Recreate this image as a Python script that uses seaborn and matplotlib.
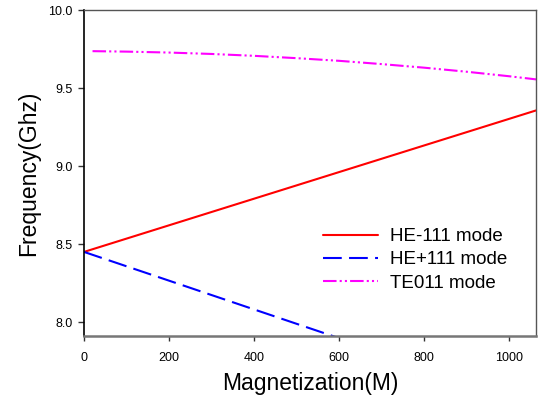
import numpy as np
import pandas as pd
import seaborn as sns
import matplotlib
matplotlib.use("Agg")
import matplotlib.pyplot as plt

# Data
m_he_minus = [0, 1063]
f_he_minus = [8.45, 9.357]

m_he_plus = [0, 1063]
f_he_plus = [8.45, 7.47]

m_te = [20, 100, 200, 300, 400, 500, 600, 700, 800, 900, 1000, 1063]
f_te = [9.737, 9.734, 9.728, 9.719, 9.707, 9.692, 9.675, 9.654, 9.631, 9.605, 9.576, 9.556]

labels = ["HE-111 mode", "HE+111 mode", "TE011 mode"]
colors = ["#ff0000", "#0000ff", "#ff00ff"]

df = pd.concat([
    pd.DataFrame({"M": m_he_minus, "f": f_he_minus, "mode": labels[0]}),
    pd.DataFrame({"M": m_he_plus, "f": f_he_plus, "mode": labels[1]}),
    pd.DataFrame({"M": m_te, "f": f_te, "mode": labels[2]}),
], ignore_index=True)

sns.set_style("ticks")
plt.rcParams['font.family'] = ['Liberation Sans', 'DejaVu Sans']
plt.rcParams['text.color'] = 'black'
plt.rcParams['axes.labelcolor'] = 'black'

fig = plt.figure(figsize=(5.47, 4.05), dpi=100)
ax = fig.add_axes([0.1536, 0.170, 0.8264, 0.805])

sns.lineplot(data=df, x="M", y="f", hue="mode", style="mode",
             palette=dict(zip(labels, colors)),
             dashes={labels[0]: "", labels[1]: (9, 3.5), labels[2]: (6.5, 1.5, 1, 1.5, 1, 1.5)},
             linewidth=1.5, ax=ax, sort=False)

ax.set_xlim(0, 1063)
ax.set_ylim(7.91, 10.0)
ax.set_xticks([0, 200, 400, 600, 800, 1000])
ax.set_yticks([8.0, 8.5, 9.0, 9.5, 10.0])
ax.set_yticklabels(["8.0", "8.5", "9.0", "9.5", "10.0"])
ax.tick_params(axis='x', labelsize=9, length=3.5, width=1, colors='#333333',
               labelcolor='black', pad=8)
ax.tick_params(axis='y', labelsize=9, length=4, width=1, colors='#333333',
               labelcolor='black', pad=4)
ax.set_xlabel("Magnetization(M)", fontsize=16.5, labelpad=6, color='black')
ax.set_ylabel("Frequency(Ghz)", fontsize=16.5, labelpad=6, color='black')

for s in ["top", "right"]:
    ax.spines[s].set_visible(True)
    ax.spines[s].set_color("#555555")
    ax.spines[s].set_linewidth(1.0)
ax.spines["left"].set_color("black")
ax.spines["left"].set_linewidth(1.2)
ax.spines["bottom"].set_color("#777777")
ax.spines["bottom"].set_linewidth(1.8)

leg = ax.legend(loc="center left", bbox_to_anchor=(0.529, 0.234), frameon=False,
                fontsize=13.5, handlelength=2.9, handletextpad=0.65, labelspacing=0.33,
                borderaxespad=0, borderpad=0)
leg.set_title(None)
for t in leg.get_texts():
    t.set_color('black')

fig.savefig("out.png", dpi=100)
